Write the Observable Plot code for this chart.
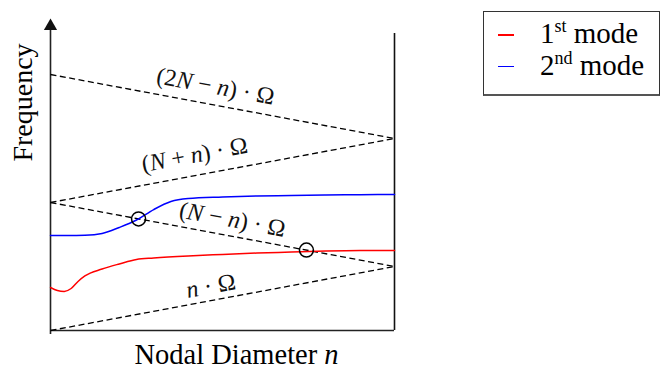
<!DOCTYPE html>
<html>
<head>
<meta charset="utf-8">
<script src="https://cdn.jsdelivr.net/npm/d3@7"></script>
<script src="https://cdn.jsdelivr.net/npm/@observablehq/plot@0.6"></script>
<style>
  body { margin: 0; background: #fff; }
  #chart { position: relative; width: 662px; height: 371px; font-family: "Liberation Serif", "Times New Roman", serif; color: #000; }
  #chart svg { position: absolute; left: 0; top: 0; }
  .legend { position: absolute; left: 483px; top: 11px; width: 175px; height: 82px; border: 1px solid #333; border-bottom: 2px solid #555; background: #fff; }
  .legend .sw { position: absolute; left: 14px; width: 16px; height: 1.5px; }
  .legend .lab { position: absolute; left: 56px; font-size: 29px; line-height: 29px; white-space: nowrap; }
  .legend .sup { font-size: 18px; position: relative; top: -11px; }
</style>
</head>
<body>
<div id="chart"></div>
<script>
// Nodal diameter n, as a fraction of the blade count N (0 … N/2)
const nodalDiameter = [0, 0.5];

// Excitation lines: frequency in units of N·Ω at n = 0 and at n = N/2
const lineLabels = ["(2N − n) · Ω", "(N + n) · Ω", "(N − n) · Ω", "n · Ω"];
const lineStart = [2, 1, 1, 0];
const lineEnd = [1.5, 1.5, 0.5, 0.5];
// where along each line its label sits (n / N)
const labelAt = [0.235, 0.215, 0.26, 0.237];

// 1st mode frequency
const mode1N = [0, 0.01, 0.02, 0.03, 0.04, 0.05, 0.075, 0.1, 0.125, 0.15, 0.2, 0.25, 0.3, 0.35, 0.4, 0.45, 0.5];
const mode1F = [0.336, 0.3125, 0.305, 0.328, 0.383, 0.426, 0.48, 0.52, 0.555, 0.566, 0.582, 0.594, 0.605, 0.613, 0.621, 0.625, 0.625];

// 2nd mode frequency
const mode2N = [0, 0.025, 0.05, 0.075, 0.1, 0.125, 0.15, 0.175, 0.2, 0.25, 0.3, 0.35, 0.4, 0.45, 0.5];
const mode2F = [0.742, 0.742, 0.744, 0.758, 0.805, 0.863, 0.945, 1.008, 1.031, 1.043, 1.051, 1.055, 1.059, 1.061, 1.0625];

// Resonance crossings of the modes with the (N − n)·Ω line
const crossN = [0.128, 0.372];
const crossF = [0.872, 0.628];

// Legend entries
const modeNames = [["1", "st", " mode"], ["2", "nd", " mode"]];
const modeColors = ["#ff0000", "#0000ff"];

// ---- layout ----
const W = 662, H = 371;
const M = {top: 18, right: 268, bottom: 41, left: 50};
const yMax = 2.4375;      // top of the frequency axis (arrow tip)
const frameTop = 2.32;    // top of the right-hand border
const innerW = W - M.left - M.right, innerH = H - M.top - M.bottom;
const pxPerN = innerW / (nodalDiameter[1] - nodalDiameter[0]);
const pxPerF = innerH / yMax;
const labelGap = [18.5, 20.5, 16.5, 14.5];

const lines = lineLabels.map((label, i) => ({
  label, x1: nodalDiameter[0], y1: lineStart[i], x2: nodalDiameter[1], y2: lineEnd[i]
}));

const labels = lines.map((l, i) => {
  const dxPx = (l.x2 - l.x1) * pxPerN;
  const dyPx = -(l.y2 - l.y1) * pxPerF;
  const theta = Math.atan2(dyPx, dxPx);
  const n = labelAt[i];
  const f = l.y1 + (l.y2 - l.y1) * (n - l.x1) / (l.x2 - l.x1);
  // shift perpendicular to the line, upward on screen
  const g = labelGap[i];
  return {
    label: l.label,
    n: n + g * Math.sin(theta) / pxPerN,
    f: f + g * Math.cos(theta) / pxPerF,
    angle: theta * 180 / Math.PI
  };
});

const mode1 = mode1N.map((n, i) => ({n, f: mode1F[i]}));
const mode2 = mode2N.map((n, i) => ({n, f: mode2F[i]}));
const crossings = crossN.map((n, i) => ({n, f: crossF[i]}));
const axisColor = "#222";

const svg = Plot.plot({
  width: W,
  height: H,
  marginTop: M.top, marginRight: M.right, marginBottom: M.bottom, marginLeft: M.left,
  x: {domain: nodalDiameter, axis: null},
  y: {domain: [0, yMax], axis: null},
  style: {fontFamily: "'Liberation Serif', 'Times New Roman', serif", background: "transparent", overflow: "visible"},
  marks: [
    // frame: bottom, left (arrowed) and right borders
    Plot.ruleY([0], {x1: nodalDiameter[0], x2: nodalDiameter[1], stroke: axisColor, strokeWidth: 1.6}),
    Plot.ruleX([nodalDiameter[0]], {y1: 0, y2: yMax, dy: 4, stroke: axisColor, strokeWidth: 1.6}),
    Plot.ruleX([nodalDiameter[1]], {y1: 0, y2: frameTop, stroke: "#111", strokeWidth: 1.6}),
    Plot.dot([{n: nodalDiameter[0], f: yMax}], {x: "n", y: "f", symbol: "triangle", r: 4.9, fill: "#111", stroke: "none", dy: 7.6}),
    // excitation lines
    Plot.link(lines, {x1: "x1", y1: "y1", x2: "x2", y2: "y2", stroke: "#000", strokeWidth: 1.3, strokeDasharray: "6,3.5"}),
    // mode curves
    Plot.line(mode1, {x: "n", y: "f", stroke: modeColors[0], strokeWidth: 1.5, curve: "monotone-x"}),
    Plot.line(mode2, {x: "n", y: "f", stroke: modeColors[1], strokeWidth: 1.5, curve: "monotone-x"}),
    // resonance markers
    Plot.dot(crossings, {x: "n", y: "f", r: 7, stroke: "#000", strokeWidth: 1.5, fill: "none"}),
    // line labels
    Plot.text(labels, {x: "n", y: "f", text: "label", rotate: "angle", fontSize: 24, textAnchor: "middle", lineAnchor: "middle", fill: "#111"}),
    // axis titles
    Plot.text(["Frequency"], {frameAnchor: "top-left", rotate: -90, dx: -27.6, dy: 84, fontSize: 28, textAnchor: "middle", lineAnchor: "middle"}),
    Plot.text(["Nodal Diameter n"], {frameAnchor: "bottom", dx: 14, dy: 24, fontSize: 28.5, textAnchor: "middle", lineAnchor: "middle"})
  ]
});

// set the math symbols N and n in italics
const NS = "http://www.w3.org/2000/svg";
function italicize(t, parts) {
  t.textContent = "";
  for (const [s, it] of parts) {
    const ts = document.createElementNS(NS, "tspan");
    ts.textContent = s;
    if (it) ts.setAttribute("font-style", "italic");
    t.appendChild(ts);
  }
}
svg.querySelectorAll("text").forEach((t) => {
  const s = t.textContent;
  if (lineLabels.includes(s)) {
    italicize(t, s.split(/([Nn])/).filter((p) => p !== "").map((p) => [p, /^[Nn]$/.test(p)]));
  } else if (s === "Nodal Diameter n") {
    italicize(t, [["Nodal Diameter ", false], ["n", true]]);
  }
});

const chart = document.getElementById("chart");
chart.appendChild(svg);

// legend
const legend = document.createElement("div");
legend.className = "legend";
modeNames.forEach(([num, sup, rest], i) => {
  const sw = document.createElement("div");
  sw.className = "sw";
  sw.style.top = (22.3 + 31.5 * i) + "px";
  sw.style.background = modeColors[i];
  legend.appendChild(sw);
  const lab = document.createElement("div");
  lab.className = "lab";
  lab.style.top = (7 + 32 * i) + "px";
  lab.append(num);
  const s = document.createElement("span");
  s.className = "sup";
  s.textContent = sup;
  lab.append(s, rest);
  legend.appendChild(lab);
});
chart.appendChild(legend);
</script>
</body>
</html>
